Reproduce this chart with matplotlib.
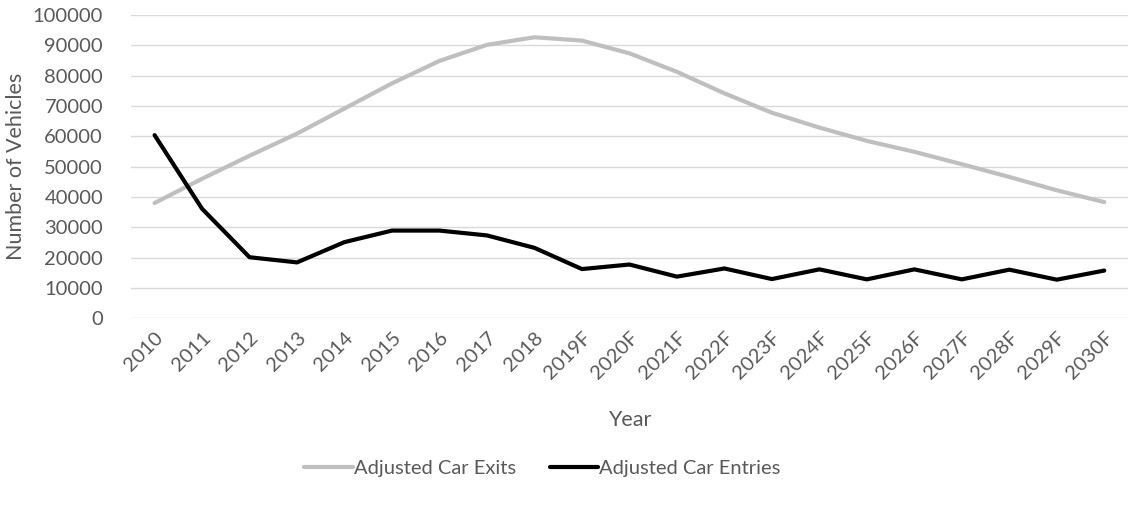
import matplotlib.pyplot as plt

years = ["2010", "2011", "2012", "2013", "2014", "2015", "2016", "2017", "2018",
         "2019F", "2020F", "2021F", "2022F", "2023F", "2024F", "2025F", "2026F",
         "2027F", "2028F", "2029F", "2030F"]

exits = [38000, 46000, 53600, 60900, 69200, 77500, 84900, 90200, 92700,
         91600, 87400, 81300, 74200, 67800, 62900, 58500, 54900, 50800,
         46600, 42200, 38300]

entries = [60400, 36100, 20100, 18400, 25100, 28900, 28900, 27300, 23200,
           16200, 17700, 13700, 16400, 12900, 16100, 12800, 16100, 12800,
           16000, 12700, 15700]

plt.rcParams['font.family'] = ['Lato', 'DejaVu Sans']
txt = "#595959"

fig = plt.figure(figsize=(11.28, 5.05), dpi=100)
ax = fig.add_axes([0.116, 0.370, 0.884, 0.600])

x = list(range(len(years)))
ax.plot(x, exits, color="#bfbfbf", lw=3, solid_capstyle="round",
        solid_joinstyle="round", label="Adjusted Car Exits", zorder=3)
ax.plot(x, entries, color="#000000", lw=3, solid_capstyle="round",
        solid_joinstyle="round", label="Adjusted Car Entries", zorder=3)

ax.set_xlim(-0.5, len(years) - 0.5)
ax.set_ylim(0, 100000)
ax.set_yticks(range(0, 100001, 10000))
ax.set_yticklabels([str(v) for v in range(0, 100001, 10000)])
ax.set_xticks(x)
ax.set_xticklabels(years, rotation=45, ha="right", rotation_mode="anchor")

ax.grid(axis="y", color="#d9d9d9", lw=1)
ax.set_axisbelow(True)
for s in ax.spines.values():
    s.set_visible(False)
ax.tick_params(axis="both", length=0, labelsize=14.5, colors=txt)
ax.tick_params(axis="x", pad=8)
ax.tick_params(axis="y", pad=20)

ax.set_xlabel("Year", fontsize=15.5, color=txt, labelpad=20)
ax.set_ylabel("Number of Vehicles", fontsize=15.5, color=txt, labelpad=8)
ax.yaxis.set_label_coords(-0.105, 0.5)

fig.legend(loc="center", bbox_to_anchor=(0.481, 0.073), ncol=2, frameon=False,
           fontsize=14.5, labelcolor=txt, handlelength=2.4, handletextpad=0.05,
           columnspacing=1.7)

fig.savefig("out.png", dpi=100)
